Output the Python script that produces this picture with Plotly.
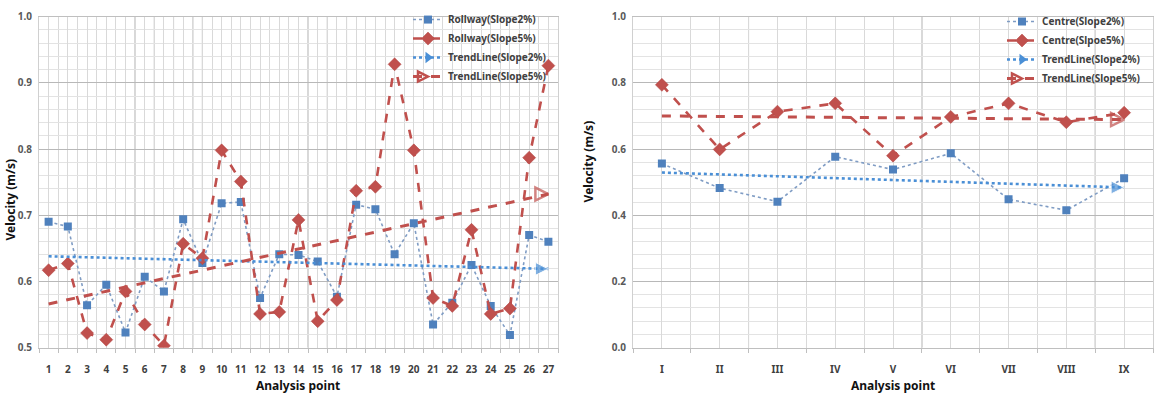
import plotly.graph_objects as go

# ---------------- data ----------------
left_points = list(range(1, 28))
left_tick_labels = [str(i) for i in left_points]
rollway_slope2 = [0.690, 0.683, 0.564, 0.595, 0.523, 0.607, 0.585, 0.694, 0.628,
                  0.718, 0.720, 0.575, 0.641, 0.640, 0.630, 0.577, 0.716, 0.709,
                  0.641, 0.688, 0.535, 0.568, 0.625, 0.563, 0.519, 0.670, 0.660]
rollway_slope5 = [0.617, 0.627, 0.522, 0.512, 0.585, 0.535, 0.503, 0.657, 0.635,
                  0.798, 0.751, 0.551, 0.554, 0.693, 0.540, 0.572, 0.737, 0.743,
                  0.928, 0.798, 0.575, 0.563, 0.678, 0.551, 0.559, 0.787, 0.926]
left_trend_x = [1, 27]
left_trend2 = [0.638, 0.619]
left_trend5 = [0.566, 0.732]

right_points = list(range(1, 10))
right_tick_labels = ["I", "II", "III", "IV", "V", "VI", "VII", "VIII", "IX"]
centre_slope2 = [0.556, 0.482, 0.441, 0.577, 0.538, 0.587, 0.448, 0.415, 0.512]
centre_slope5 = [0.794, 0.599, 0.713, 0.738, 0.580, 0.697, 0.738, 0.681, 0.710]
right_trend_x = [1, 9]
right_trend2 = [0.529, 0.484]
right_trend5 = [0.700, 0.689]

left_dark_lines = [5.5, 6.5, 7.5, 8.5, 9.0, 14.5, 15.5, 16.5]
right_dark_lines = [2.5, 5.5, 8.5]

# ---------------- style ----------------
W, H = 1159, 400
BLUE = "#4f81bd"
BLUE_LINE = "#7f9cc4"
BLUE_TREND = "#4a8fd6"
RED = "#c0504d"
FONT = "Noto Sans"
TICK_COL = "#404040"

fig = go.Figure()


def add_panel(xs, s2, s5, tx, t2, t5, names, xa, ya, legend):
    fig.add_trace(go.Scatter(
        x=xs, y=s2, name=names[0], mode="lines+markers", xaxis=xa, yaxis=ya,
        legend=legend,
        line=dict(color=BLUE_LINE, width=1.6, dash="dot"),
        marker=dict(symbol="square", size=8, color=BLUE)))
    fig.add_trace(go.Scatter(
        x=xs, y=s5, name=names[1], mode="lines+markers", xaxis=xa, yaxis=ya,
        legend=legend,
        line=dict(color=RED, width=2.6, dash="dash"),
        marker=dict(symbol="diamond", size=10, color=RED,
                    line=dict(color="#b04542", width=0.5))))
    # legend proxies for the trend lines
    fig.add_trace(go.Scatter(
        x=[None], y=[None], name=names[2], mode="lines+markers", xaxis=xa, yaxis=ya,
        legend=legend,
        line=dict(color=BLUE_TREND, width=2.6, dash="dot"),
        marker=dict(symbol="triangle-right", size=10, color=BLUE_TREND)))
    fig.add_trace(go.Scatter(
        x=[None], y=[None], name=names[3], mode="lines+markers", xaxis=xa, yaxis=ya,
        legend=legend,
        line=dict(color=RED, width=3, dash="dash"),
        marker=dict(symbol="arrow-right-open", size=10, color=RED,
                    line=dict(color=RED, width=2.5))))
    fig.add_trace(go.Scatter(
        x=tx, y=t2, mode="lines+markers", xaxis=xa, yaxis=ya, showlegend=False,
        line=dict(color=BLUE_TREND, width=2.6, dash="dot"),
        marker=dict(symbol="arrow-right", size=[0, 13], color=BLUE_TREND)))
    fig.add_trace(go.Scatter(
        x=tx, y=t5, mode="lines+markers", xaxis=xa, yaxis=ya, showlegend=False,
        line=dict(color=RED, width=3, dash="dash"),
        marker=dict(symbol="arrow-right-open", size=[0, 13], color=RED,
                    line=dict(color=RED, width=2.5))))


add_panel(left_points, rollway_slope2, rollway_slope5, left_trend_x,
          left_trend2, left_trend5,
          ["Rollway(Slope2%)", "Rollway(Slope5%)", "TrendLine(Slope2%)", "TrendLine(Slope5%)"],
          "x", "y", "legend")
add_panel(right_points, centre_slope2, centre_slope5, right_trend_x,
          right_trend2, right_trend5,
          ["Centre(Slope2%)", "Centre(Slpoe5%)", "TrendLine(Slope2%)", "TrendLine(Slope5%)"],
          "x2", "y2", "legend2")

tickfont = dict(family=FONT, size=10, color=TICK_COL, weight="bold")
ytickfont = dict(family=FONT, size=10, color="#595959", weight="bold")

common_x = dict(showgrid=True, gridcolor="#d9d9d9", gridwidth=1, zeroline=False,
                showline=True, linecolor="#bfbfbf", mirror=True, ticks="",
                tickfont=tickfont, ticklabelstandoff=12,
                minor=dict(tick0=0.5, dtick=1, showgrid=True, gridcolor="#d9d9d9",
                           ticks="outside", ticklen=4, tickcolor="#bfbfbf"))
common_y = dict(showgrid=True, gridcolor="#b8b8b8", zeroline=False,
                showline=True, linecolor="#d0d0d0", mirror=True, ticks="",
                tickfont=ytickfont, tickformat=".1f", ticklabelstandoff=4)

shapes = []
for v in left_dark_lines:
    shapes.append(dict(type="line", xref="x", yref="y domain", x0=v, x1=v, y0=0, y1=1,
                       line=dict(color="#9a9a9a", width=1), layer="below"))
for v in right_dark_lines:
    shapes.append(dict(type="line", xref="x2", yref="y2 domain", x0=v, x1=v, y0=0, y1=1,
                       line=dict(color="#9a9a9a", width=1), layer="below"))

title_font = dict(family=FONT, size=12, color="#111111", weight="bold")
annotations = [
    dict(text="Velocity (m/s)", xref="paper", yref="paper", x=0, y=1 - 200 / H,
         textangle=-90, showarrow=False, font=title_font, xanchor="left", yanchor="middle",
         borderpad=0),
    dict(text="Velocity (m/s)", xref="paper", yref="paper", x=588 / W, y=1 - 160 / H,
         textangle=-90, showarrow=False, font=title_font, xanchor="center", yanchor="middle"),
    dict(text="Analysis point", xref="paper", yref="paper", x=298 / W, y=1 - 382 / H,
         showarrow=False, font=title_font, xanchor="center", yanchor="top", borderpad=0),
    dict(text="Analysis point", xref="paper", yref="paper", x=893 / W, y=1 - 382 / H,
         showarrow=False, font=title_font, xanchor="center", yanchor="top", borderpad=0),
]

legend_font = dict(family=FONT, size=10, color="#404040", weight="bold")

fig.update_layout(
    width=W, height=H, margin=dict(l=0, r=0, t=0, b=0),
    paper_bgcolor="white", plot_bgcolor="white",
    xaxis=dict(domain=[39 / W, 558 / W], range=[0.5, 27.5], tickvals=left_points,
               ticktext=left_tick_labels, anchor="y", **common_x),
    yaxis=dict(domain=[47 / H, 390 / H], range=[0.5, 1.0], dtick=0.1, anchor="x",
               minor=dict(dtick=0.02, showgrid=True, gridcolor="#e3e3e3"), **common_y),
    xaxis2=dict(domain=[633 / W, 1153 / W], range=[0.5, 9.5], tickvals=right_points,
                ticktext=right_tick_labels, anchor="y2", **common_x),
    yaxis2=dict(domain=[47 / H, 390 / H], range=[0.0, 1.0], dtick=0.2, anchor="x2",
                minor=dict(dtick=0.04, showgrid=True, gridcolor="#e3e3e3"), **common_y),
    legend=dict(x=408 / W, y=1 + 2 / H, xanchor="left", yanchor="top",
                bgcolor="rgba(255,255,255,0)", font=legend_font, itemwidth=30,
                tracegroupgap=0),
    legend2=dict(x=1002 / W, y=1 + 0 / H, xanchor="left", yanchor="top",
                 bgcolor="rgba(255,255,255,0)", font=legend_font, itemwidth=30,
                 tracegroupgap=0),
    shapes=shapes, annotations=annotations, showlegend=True,
)

fig.write_html("out.html")
